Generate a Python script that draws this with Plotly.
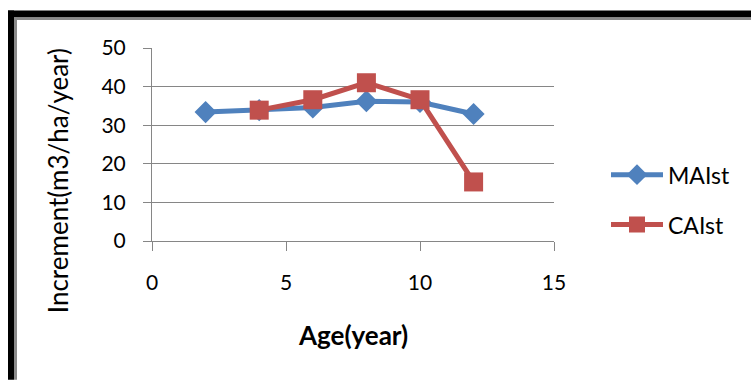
import plotly.graph_objects as go

# Stand increment by stand age
age_mai = [2, 4, 6, 8, 10, 12]
mai_st = [33.4, 33.9, 34.6, 36.2, 36.0, 32.9]

age_cai = [4, 6, 8, 10, 12]
cai_st = [33.9, 36.6, 41.0, 36.6, 15.3]

x_ticks = [0, 5, 10, 15]
y_ticks = [0, 10, 20, 30, 40, 50]

W, H = 751, 380
L, R, T, B = 152, 554, 47.5, 241
FONT = "Lato"
GRID = "#868686"


def px(xp):
    return (xp - L) / (R - L)


def py(yp):
    return (B - yp) / (B - T)


fig = go.Figure()
fig.add_trace(go.Scatter(
    x=age_mai, y=mai_st, name="MAIst", mode="lines+markers",
    legendgroup="a",
    line=dict(color="#4F81BD", width=5),
    marker=dict(symbol="diamond", size=17, color="#4F81BD"),
))
fig.add_trace(go.Scatter(
    x=age_cai, y=cai_st, name="CAIst", mode="lines+markers",
    legendgroup="b",
    line=dict(color="#C0504D", width=5),
    marker=dict(symbol="square", size=19, color="#C0504D"),
))

# Frame around the chart: heavy black edge with a grey inner line
frame = [
    (8, 10, W, 17, "black"),
    (14, 17, W, 19.5, "#8a8a8a"),
    (8, 10, 14, H, "black"),
    (14, 17, 17, H, "#8a8a8a"),
]
shapes = [
    dict(type="rect", xref="paper", yref="paper",
         x0=px(x0), x1=px(x1), y0=py(y1), y1=py(y0),
         fillcolor=c, line=dict(width=0), layer="above")
    for x0, y0, x1, y1, c in frame
]

fig.update_layout(
    width=W, height=H,
    margin=dict(l=L, r=W - R, t=T, b=H - B),
    paper_bgcolor="white", plot_bgcolor="white",
    font=dict(family=FONT, size=21, color="black"),
    showlegend=True,
    legend=dict(
        x=px(606), y=py(153), xanchor="left", yanchor="top",
        traceorder="grouped", tracegroupgap=17,
        font=dict(family=FONT, size=23, color="black"),
        bgcolor="rgba(0,0,0,0)", itemwidth=52,
    ),
    xaxis=dict(
        range=[0, 15], tickvals=x_ticks, showgrid=False, zeroline=False,
        showline=True, linecolor=GRID, linewidth=1,
        ticks="outside", ticklen=9, tickcolor=GRID, ticklabelstandoff=14,
        tickfont=dict(family=FONT, size=21), fixedrange=True,
    ),
    yaxis=dict(
        range=[0, 50], tickvals=y_ticks, showgrid=True, gridcolor=GRID,
        gridwidth=1, zeroline=False,
        showline=True, linecolor=GRID, linewidth=1,
        ticks="outside", ticklen=8, tickcolor=GRID, ticklabelstandoff=13,
        tickfont=dict(family=FONT, size=21), fixedrange=True,
    ),
    annotations=[
        dict(text="<b>Age(year)</b>", xref="paper", yref="paper",
             x=px(353), y=py(335), xanchor="center", yanchor="middle",
             showarrow=False, font=dict(family=FONT, size=26)),
        dict(text="Increment(m3/ha/year)", xref="paper", yref="paper",
             x=px(58), y=py(181), xanchor="center", yanchor="middle",
             showarrow=False, textangle=-90,
             font=dict(family=FONT, size=26)),
    ],
    shapes=shapes,
)

fig.write_html("out.html")
